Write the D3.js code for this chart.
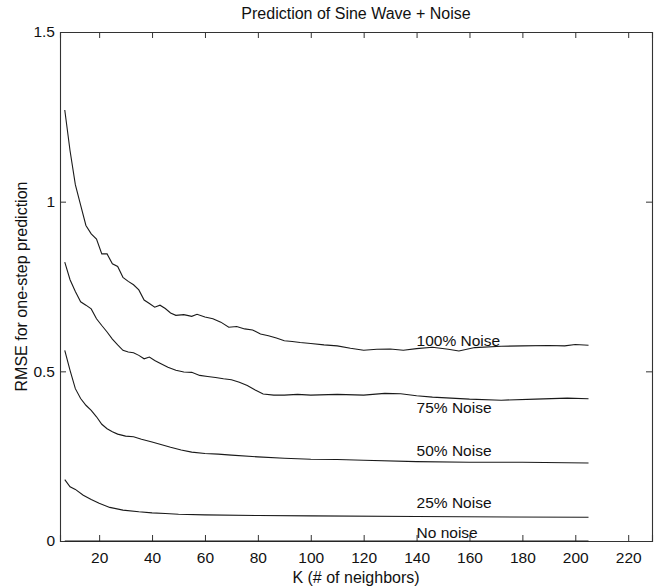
<!DOCTYPE html>
<html>
<head>
<meta charset="utf-8">
<script src="https://cdn.jsdelivr.net/npm/d3@7"></script>
<style>
  body { margin: 0; background: #fff; }
  svg text { font-family: "Liberation Sans", Arial, sans-serif; fill: #111; }
</style>
</head>
<body>
<div id="chart"></div>
<script>
// K (# of neighbors) vs RMSE
const noise100 = [[7,1.27],[9,1.15],[11,1.05],[13,0.99],[15,0.93],[17,0.905],[19,0.89],[21,0.846],[23,0.846],[25,0.817],[27,0.809],[29,0.777],[31,0.765],[33,0.755],[35,0.74],[37,0.71],[39,0.70],[41,0.689],[43,0.695],[45,0.685],[47,0.672],[49,0.665],[52,0.667],[55,0.662],[57,0.668],[60,0.66],[63,0.655],[66,0.645],[69,0.63],[72,0.632],[75,0.625],[78,0.622],[81,0.61],[84,0.605],[87,0.598],[90,0.59],[93,0.588],[96,0.585],[100,0.582],[105,0.578],[110,0.575],[115,0.568],[120,0.562],[125,0.565],[130,0.566],[135,0.562],[140,0.567],[146,0.571],[152,0.565],[156,0.56],[162,0.57],[172,0.574],[180,0.575],[190,0.576],[196,0.575],[200,0.579],[205,0.577]]
const noise75 = [[7,0.822],[9,0.77],[11,0.735],[13,0.705],[15,0.695],[17,0.684],[19,0.655],[21,0.635],[23,0.616],[25,0.595],[27,0.578],[29,0.562],[31,0.557],[33,0.555],[35,0.547],[37,0.537],[39,0.542],[41,0.532],[43,0.524],[46,0.512],[49,0.503],[52,0.498],[55,0.497],[58,0.488],[61,0.485],[64,0.482],[67,0.478],[70,0.475],[73,0.468],[76,0.458],[79,0.445],[82,0.433],[86,0.43],[90,0.43],[95,0.432],[100,0.43],[110,0.432],[120,0.43],[128,0.435],[134,0.434],[140,0.428],[146,0.424],[160,0.418],[172,0.415],[185,0.418],[197,0.421],[205,0.419]]
const noise50 = [[7,0.562],[9,0.503],[11,0.449],[13,0.42],[15,0.40],[17,0.385],[19,0.366],[21,0.344],[23,0.331],[25,0.322],[27,0.315],[30,0.309],[33,0.307],[36,0.3],[40,0.292],[43,0.285],[47,0.276],[51,0.268],[55,0.262],[60,0.258],[65,0.256],[70,0.253],[80,0.248],[90,0.244],[100,0.241],[110,0.24],[120,0.238],[140,0.234],[160,0.232],[180,0.232],[205,0.23]]
const noise25 = [[7,0.181],[9,0.16],[11,0.152],[14,0.135],[17,0.122],[20,0.111],[24,0.099],[29,0.091],[35,0.086],[40,0.083],[45,0.081],[50,0.079],[60,0.077],[80,0.075],[100,0.074],[140,0.072],[205,0.07]]
// no-noise error is ~0, it runs along the x axis
const noise0 = [[7,0],[205,0]]

const seriesList = [noise100, noise75, noise50, noise25, noise0]
const seriesLabels = ['100% Noise', '75% Noise', '50% Noise', '25% Noise', 'No noise']
// where each label sits (K, RMSE)
const labelK = 140
const labelValues = [0.576, 0.376, 0.25, 0.0985, 0.009]

const xTicks = [20, 40, 60, 80, 100, 120, 140, 160, 180, 200, 220]
const yTicks = [0, 0.5, 1, 1.5]

const width = 656, height = 588
const margin = {top: 32, right: 4, bottom: 47, left: 60}

const svg = d3.select('#chart').append('svg')
    .attr('width', width)
    .attr('height', height)

const x = d3.scaleLinear().domain([5.2, 229]).range([margin.left, width - margin.right])
const y = d3.scaleLinear().domain([0, 1.5]).range([height - margin.bottom, margin.top])

const axisColor = '#333'
const tickLen = 6

// axes, matlab style: ticks pointing inwards on all four sides
svg.append('g')
    .attr('class', 'x-axis')
    .attr('transform', 'translate(0,' + y(0) + ')')
    .call(d3.axisBottom(x).tickValues(xTicks).tickSize(-tickLen).tickPadding(tickLen + 5).tickFormat(d3.format('d')))
svg.append('g')
    .attr('class', 'x-axis-top')
    .attr('transform', 'translate(0,' + y(1.5) + ')')
    .call(d3.axisTop(x).tickValues(xTicks).tickSize(-tickLen).tickFormat(''))
svg.append('g')
    .attr('class', 'y-axis')
    .attr('transform', 'translate(' + x.range()[0] + ',0)')
    .call(d3.axisLeft(y).tickValues(yTicks).tickSize(-tickLen).tickPadding(5).tickFormat(d => d))
svg.append('g')
    .attr('class', 'y-axis-right')
    .attr('transform', 'translate(' + x.range()[1] + ',0)')
    .call(d3.axisRight(y).tickValues(yTicks).tickSize(-tickLen).tickFormat(''))

svg.selectAll('.domain').attr('stroke', axisColor).attr('stroke-width', 1.1)
svg.selectAll('.tick line').attr('stroke', axisColor)
svg.selectAll('.tick text')
    .style('font-size', '15.5px')
    .attr('fill', '#111')

// curves
const line = d3.line()
    .x(d => x(d[0]))
    .y(d => y(d[1]))

svg.append('g')
    .attr('class', 'curves')
    .selectAll('path')
    .data(seriesList)
    .enter().append('path')
    .attr('d', line)
    .attr('fill', 'none')
    .attr('stroke', '#1a1a1a')
    .attr('stroke-width', 1.1)

svg.append('g')
    .attr('class', 'labels')
    .selectAll('text')
    .data(seriesLabels)
    .enter().append('text')
    .attr('x', x(labelK))
    .attr('y', (d, i) => y(labelValues[i]))
    .style('font-size', '15.5px')
    .text(d => d)

// title and axis labels
svg.append('text')
    .attr('x', (x.range()[0] + x.range()[1]) / 2)
    .attr('y', 19)
    .attr('text-anchor', 'middle')
    .style('font-size', '16px')
    .text('Prediction of Sine Wave + Noise')

svg.append('text')
    .attr('x', (x.range()[0] + x.range()[1]) / 2)
    .attr('y', 583)
    .attr('text-anchor', 'middle')
    .style('font-size', '16px')
    .text('K (# of neighbors)')

svg.append('text')
    .attr('transform', 'translate(27,' + ((y(0) + y(1.5)) / 2) + ') rotate(-90)')
    .attr('text-anchor', 'middle')
    .style('font-size', '16px')
    .text('RMSE for one-step prediction')
</script>
</body>
</html>
